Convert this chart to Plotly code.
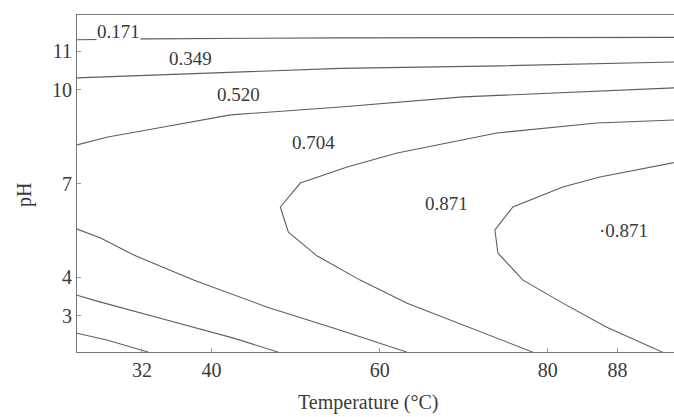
import plotly.graph_objects as go

# Coded design units: Temperature (°C) and pH
x_tick_vals = [-1.414, -1.0, 0.0, 1.0, 1.414]
x_tick_text = ["32", "40", "60", "80", "88"]
y_tick_vals = [-1.414, -1.0, 0.0, 1.0, 1.414]
y_tick_text = ["3", "4", "7", "10", "11"]

# Contour lines (coded units)
c0171_x = [-1.80, -1.374, -0.234, 1.80]
c0171_y = [1.535, 1.545, 1.556, 1.561]

c0349_x = [-1.80, -0.234, 0.715, 1.80]
c0349_y = [1.128, 1.230, 1.257, 1.300]

c0520_x = [-1.80, -1.617, -1.285, -0.887, -0.234, 0.496, 1.80]
c0520_y = [0.412, 0.497, 0.604, 0.733, 0.818, 0.925, 1.025]

c0704_x = [1.80, 1.291, 0.697, 0.104, -0.193, -0.472, -0.591, -0.543, -0.371, -0.116, 0.163, 0.496, 0.911]
c0704_y = [0.682, 0.647, 0.540, 0.326, 0.176, 0.005, -0.251, -0.519, -0.775, -1.032, -1.278, -1.513, -1.802]

c0871_x = [1.80, 1.309, 1.089, 0.792, 0.685, 0.703, 0.852, 1.089, 1.350, 1.682]
c0871_y = [0.240, 0.070, -0.037, -0.251, -0.497, -0.743, -1.032, -1.278, -1.535, -1.802]

low1_x = [-1.80, -1.659, -1.463, -1.107, -0.668, -0.234, 0.163]
low1_y = [-0.487, -0.583, -0.765, -1.032, -1.321, -1.567, -1.802]

low2_x = [-1.80, -1.659, -1.261, -0.869, -0.602]
low2_y = [-1.193, -1.267, -1.460, -1.652, -1.802]

low3_x = [-1.80, -1.617, -1.374]
low3_y = [-1.599, -1.674, -1.802]

# Contour labels
label_text = ["0.171", "0.349", "0.520", "0.704", "0.871", "·0.871"]
label_x = [-1.552, -1.125, -0.840, -0.395, 0.395, 1.451]
label_y = [1.620, 1.332, 0.947, 0.433, -0.209, -0.497]

LINE = "#5e5e5e"
TEXT = "#3a3a3a"
FONT = "Times New Roman, Liberation Serif, serif"

fig = go.Figure()
for xs, ys in [(c0171_x, c0171_y), (c0349_x, c0349_y), (c0520_x, c0520_y),
               (c0704_x, c0704_y), (c0871_x, c0871_y),
               (low1_x, low1_y), (low2_x, low2_y), (low3_x, low3_y)]:
    fig.add_trace(go.Scatter(x=xs, y=ys, mode="lines",
                             line=dict(color=LINE, width=1.1),
                             showlegend=False, hoverinfo="skip"))

for i, (t, xx, yy) in enumerate(zip(label_text, label_x, label_y)):
    fig.add_annotation(x=xx, y=yy, text=t, showarrow=False,
                       font=dict(family=FONT, size=19, color=TEXT),
                       bgcolor="white" if i == 0 else None,
                       borderpad=0)

# Axis titles
fig.add_annotation(x=-0.068, xref="x", y=-0.151, yref="paper", yanchor="middle",
                   text="Temperature (°C)", showarrow=False,
                   font=dict(family=FONT, size=20, color=TEXT))
fig.add_annotation(x=-0.0888, xref="paper", y=-0.123, yref="y", textangle=-90,
                   xanchor="center", text="pH", showarrow=False,
                   font=dict(family=FONT, size=20, color=TEXT))

fig.update_layout(
    width=674, height=417,
    margin=dict(l=77, r=0, t=15, b=65, autoexpand=False),
    paper_bgcolor="white", plot_bgcolor="white",
    font=dict(family=FONT, color=TEXT, size=20),
    xaxis=dict(range=[-1.80, 1.75], tickvals=x_tick_vals, ticktext=x_tick_text,
               showgrid=False, zeroline=False, showline=True, mirror=True,
               linecolor="#777", linewidth=1, ticks="inside", ticklen=4,
               tickcolor="#999", tickfont=dict(family=FONT, size=20, color=TEXT),
               automargin=False),
    yaxis=dict(range=[-1.80, 1.80], tickvals=y_tick_vals, ticktext=y_tick_text,
               showgrid=False, zeroline=False, showline=True, mirror=False,
               linecolor="#777", linewidth=1, ticks="inside", ticklen=4,
               tickcolor="#999", tickfont=dict(family=FONT, size=20, color=TEXT),
               automargin=False),
)

fig.write_html("out.html",
               config={"displayModeBar": False},
               post_script="document.body.style.margin='0';document.body.style.overflow='hidden';")
